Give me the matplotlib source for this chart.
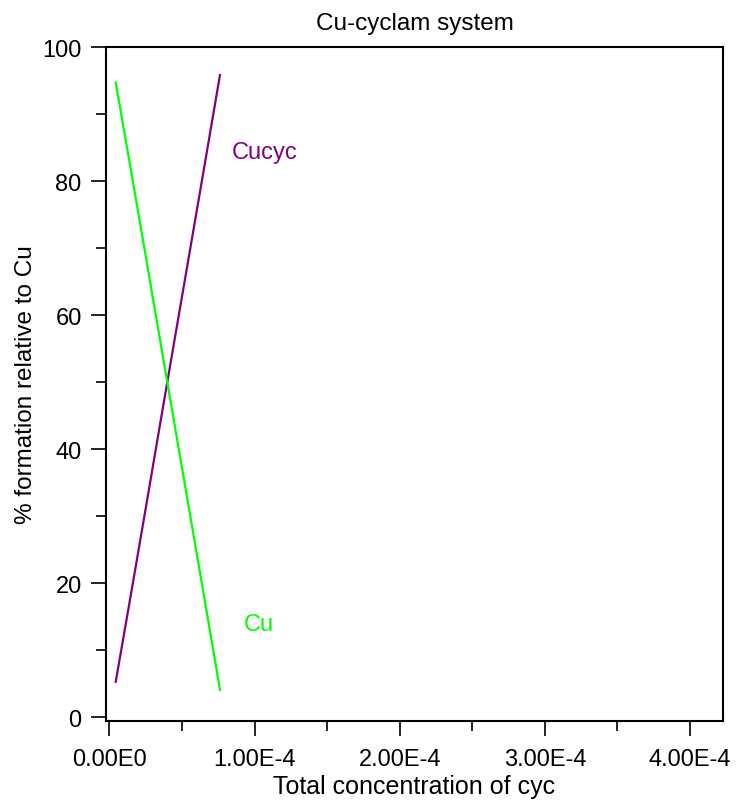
import matplotlib
matplotlib.use("Agg")
import matplotlib.pyplot as plt
from matplotlib.ticker import MultipleLocator, FixedLocator

plt.rcParams['font.family'] = ['Liberation Sans', 'DejaVu Sans']

# Data (x in mol/L)
conc = [0.044e-4, 0.15e-4, 0.25e-4, 0.35e-4, 0.45e-4, 0.55e-4, 0.65e-4, 0.762e-4]
cu = [94.7, 81.5, 68.9, 56.2, 43.6, 31.0, 18.4, 4.1]
cucyc = [5.3, 18.5, 31.1, 43.8, 56.4, 69.0, 81.6, 95.8]
xticks = [0, 1e-4, 2e-4, 3e-4, 4e-4]
xticklabels = ["0.00E0", "1.00E-4", "2.00E-4", "3.00E-4", "4.00E-4"]
yticks = [0, 20, 40, 60, 80, 100]

fig = plt.figure(figsize=(7.41, 8.03), dpi=100)
ax = fig.add_axes([106/741, 1-722/803, (723-106)/741, (722-48)/803])

ax.plot(conc, cucyc, color="#800080", lw=1.6)
ax.plot(conc, cu, color="#00FF00", lw=1.6)

ax.text(0.845e-4, 84.3, "Cucyc", color="#800080", fontsize=17, va="center", ha="left")
ax.text(0.928e-4, 13.9, "Cu", color="#00FF00", fontsize=17, va="center", ha="left")

ax.set_xlim(-0.023e-4, 4.227e-4)
ax.set_ylim(-0.55, 100)

ax.xaxis.set_major_locator(FixedLocator(xticks))
ax.set_xticklabels(xticklabels)
ax.xaxis.set_minor_locator(MultipleLocator(0.5e-4))
ax.set_yticks(yticks)
ax.yaxis.set_minor_locator(MultipleLocator(10))

for s in ax.spines.values():
    s.set_linewidth(1.5)

ax.tick_params(axis='both', which='major', direction='out', length=10.5, width=1.2, labelsize=17)
ax.tick_params(axis='both', which='minor', direction='out', length=7, width=1.2)
ax.tick_params(axis='x', which='major', pad=9)
ax.tick_params(axis='y', which='major', pad=7)
ax.tick_params(axis='x', which='both', top=False)
ax.tick_params(axis='y', which='both', right=False)

ax.set_title("Cu-cyclam system", fontsize=17.5, pad=13)
ax.set_xlabel("Total concentration of cyc", fontsize=18, labelpad=3)
ax.set_ylabel("% formation relative to Cu", fontsize=17.5, labelpad=4)

fig.savefig("out.png", dpi=100)
